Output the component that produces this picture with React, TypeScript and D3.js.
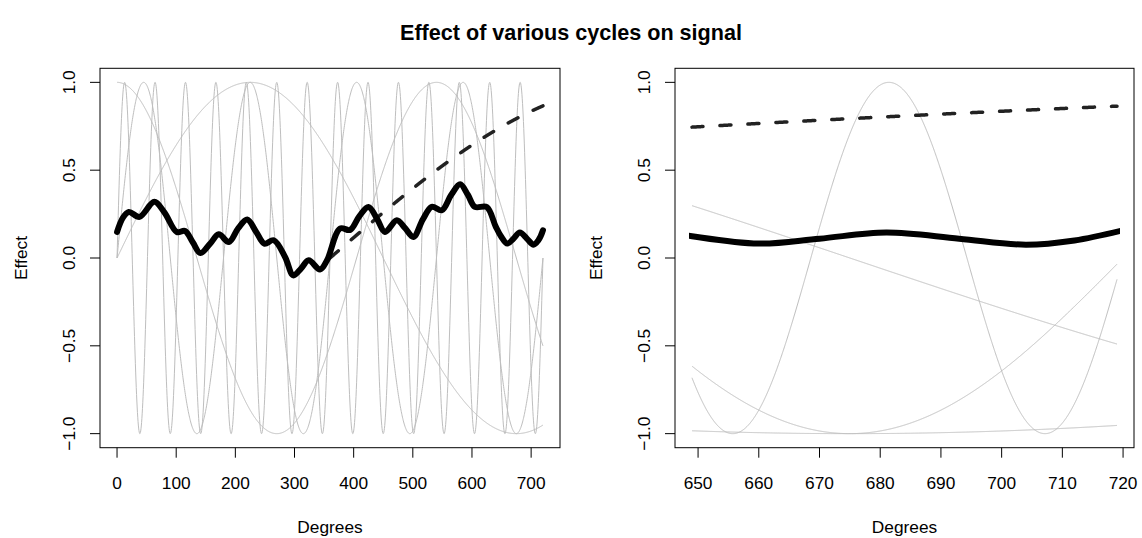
import React from "react";
import * as d3 from "d3";

// ---- data ----
// gray cycles: frequency (cycles per 360 degrees) and phase (degrees)
const cycleFrequency = [7, 2, 2 / 3, 0.4];
const cyclePhase = [0, 0, 90, 0];
// dashed trend cycle (starts at 360 degrees, 1 cycle per 2160 degrees)
const trendStart = 360;
const trendFrequency = 1 / 6;
const trendEnd = 720;
// thick black signal, read point by point
const signalDeg = [0, 10, 20, 38, 63, 80, 101, 115, 128, 141, 157, 172, 189, 205, 220, 235, 249, 265, 284, 298, 311, 324, 343, 355, 377, 394, 410, 425, 440, 453, 473, 487, 501, 517, 532, 549, 565, 580, 593, 605, 625, 640, 649, 660, 670, 681, 693, 704, 712, 720];
const signalVal = [0.148, 0.23, 0.262, 0.234, 0.32, 0.26, 0.148, 0.154, 0.09, 0.028, 0.08, 0.135, 0.091, 0.17, 0.219, 0.15, 0.082, 0.101, 0.006, -0.099, -0.06, -0.013, -0.066, -0.013, 0.168, 0.16, 0.24, 0.291, 0.22, 0.148, 0.215, 0.17, 0.12, 0.22, 0.291, 0.272, 0.36, 0.42, 0.36, 0.291, 0.29, 0.18, 0.124, 0.082, 0.11, 0.145, 0.11, 0.076, 0.1, 0.158];
const leftDomain = [0, 720];
const rightDomain = [649, 719];
const leftTicks = [0, 100, 200, 300, 400, 500, 600, 700];
const rightTicks = [650, 660, 670, 680, 690, 700, 710, 720];
const yTicks = [-1, -0.5, 0, 0.5, 1];
const yTickLabels = ["\u22121.0", "\u22120.5", "0.0", "0.5", "1.0"];
const title = "Effect of various cycles on signal";

const W = 1142;
const H = 538;
const TOP = 68.3;
const BOTTOM = 447.7;
const FONT = "'Liberation Sans', Arial, Helvetica, sans-serif";

function Panel({ id, left, right, domain, ticks }: any) {
  const [d0, d1] = domain;
  const pad = 0.04 * (d1 - d0);
  const x = d3.scaleLinear().domain([d0 - pad, d1 + pad]).range([left, right]);
  const y = d3.scaleLinear().domain([-1.08, 1.08]).range([BOTTOM, TOP]);
  const n = 1440;
  const xs = d3.range(n + 1).map((i) => d0 + ((d1 - d0) * i) / n);
  const line = d3.line<[number, number]>().x((d) => x(d[0])).y((d) => y(d[1]));
  const rad = Math.PI / 180;
  const grays = cycleFrequency.map((f, i) =>
    line(xs.map((v) => [v, Math.sin((f * v + cyclePhase[i]) * rad)] as [number, number]))
  );
  const ts = Math.max(d0, trendStart);
  const te = Math.min(d1, trendEnd);
  const txs = d3.range(n + 1).map((i) => ts + ((te - ts) * i) / n);
  const trend = line(txs.map((v) => [v, Math.sin((v - trendStart) * trendFrequency * rad)] as [number, number]));
  const sigLine = d3
    .line<number>()
    .x((d, i) => x(signalDeg[i]))
    .y((d) => y(d))
    .curve(d3.curveCatmullRom.alpha(0.5));
  const sig = sigLine(signalVal);
  const clipId = "clip-" + id;
  return (
    <g>
      <defs>
        <clipPath id={clipId}>
          <rect x={x(d0) - 3} y={TOP} width={x(d1) - x(d0) + 6} height={BOTTOM - TOP} />
        </clipPath>
      </defs>
      {grays.map((p, i) => (
        <path key={i} d={p || ""} fill="none" stroke="#bebebe" strokeWidth={1} />
      ))}
      <path d={trend || ""} fill="none" stroke="#222" strokeWidth={3.5} strokeDasharray="11,17" strokeLinecap="round" />
      <g clipPath={`url(#${clipId})`}>
        <path d={sig || ""} fill="none" stroke="#000" strokeWidth={6} strokeLinecap="round" strokeLinejoin="round" />
      </g>
      <rect x={left} y={TOP} width={right - left} height={BOTTOM - TOP} fill="none" stroke="#000" strokeWidth={1} />
      {ticks.map((t: number) => (
        <g key={t}>
          <line x1={x(t)} x2={x(t)} y1={BOTTOM} y2={BOTTOM + 10} stroke="#000" />
          <text x={x(t)} y={489.3} textAnchor="middle" fontSize={17.3} fontFamily={FONT}>
            {t}
          </text>
        </g>
      ))}
      {yTicks.map((t, i) => (
        <g key={t}>
          <line x1={left - 10} x2={left} y1={y(t)} y2={y(t)} stroke="#000" />
          <text
            transform={`translate(${left - 25},${y(t)}) rotate(-90)`}
            textAnchor="middle"
            fontSize={17.3}
            fontFamily={FONT}
          >
            {yTickLabels[i]}
          </text>
        </g>
      ))}
      <text x={(left + right) / 2} y={533} textAnchor="middle" fontSize={17.3} fontFamily={FONT}>
        Degrees
      </text>
      <text
        transform={`translate(${left - 73.3},${(TOP + BOTTOM) / 2}) rotate(-90)`}
        textAnchor="middle"
        fontSize={17.3}
        fontFamily={FONT}
      >
        Effect
      </text>
    </g>
  );
}

export default function App() {
  return (
    <svg width={W} height={H} style={{ position: "absolute", left: 0, top: 0, background: "#fff" }}>
      <rect x={0} y={0} width={W} height={H} fill="#fff" />
      <text x={W / 2} y={40} textAnchor="middle" fontSize={21.6} fontWeight="bold" fontFamily={FONT}>
        {title}
      </text>
      <Panel id="l" left={100} right={560} domain={leftDomain} ticks={leftTicks} />
      <Panel id="r" left={675} right={1134} domain={rightDomain} ticks={rightTicks} />
    </svg>
  );
}
